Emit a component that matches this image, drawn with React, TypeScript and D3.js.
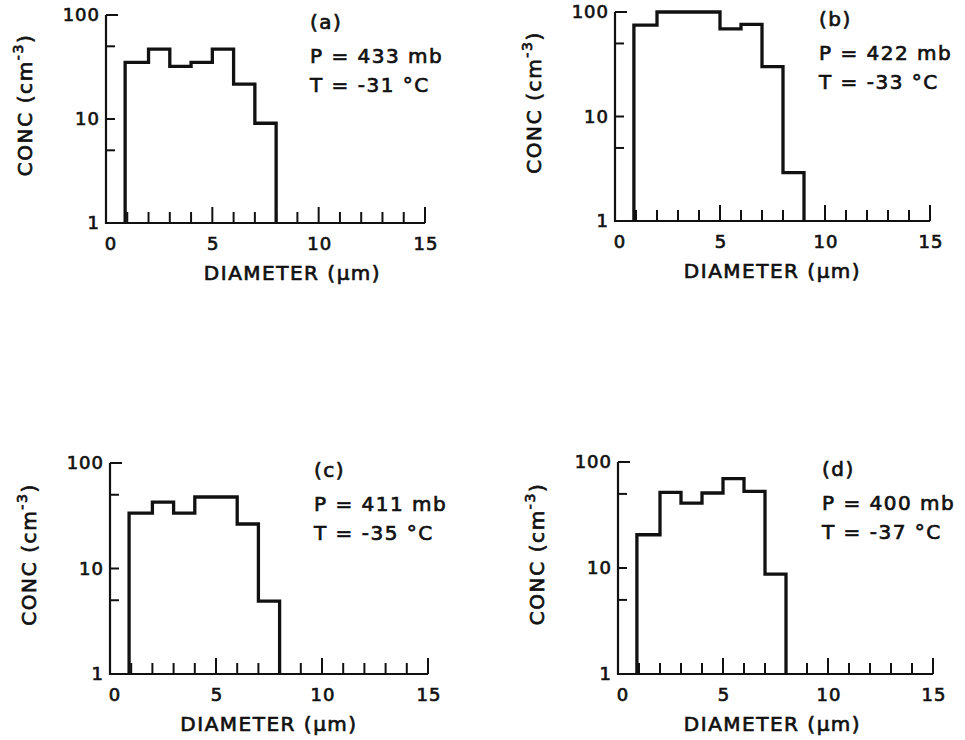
import React from "react";
import * as d3 from "d3";

// Diameter bin edges (µm) shared by every sounding
const binEdges = [0.9, 2, 3, 4, 5, 6, 7, 8, 9];

// Concentration per bin (cm^-3)
const concA = [35, 47, 32, 35, 47, 21.6, 9.1];
const concB = [75, 100, 100, 100, 69, 76, 30, 2.9];
const concC = [33.5, 42.6, 33.5, 47.6, 47.6, 26.4, 4.9];
const concD = [20.6, 51.7, 41, 51, 69.6, 52.8, 8.75];

const panelTags = ["(a)", "(b)", "(c)", "(d)"];
const pressures = ["433", "422", "411", "400"];
const temperatures = ["-31", "-33", "-35", "-37"];

const xTickLabels = [0, 5, 10, 15];
const yTickLabels = [1, 10, 100];
const yMinorTicks = [5, 50];

const FONT = "'DejaVu Sans', sans-serif";
const INK = "#111";
// slightly heavier glyphs than the regular face
const textInk = { fill: INK, stroke: INK, strokeWidth: 0.7 };

const panels = [
  { conc: concA, left: 106, right: 425, top: 15, bottom: 223, xLabelShift: 27 },
  { conc: concB, left: 615, right: 930, top: 12, bottom: 221, xLabelShift: 0 },
  { conc: concC, left: 110, right: 428, top: 463, bottom: 674, xLabelShift: 0 },
  { conc: concD, left: 618, right: 933, top: 462, bottom: 674, xLabelShift: -3 },
];

function Panel({ idx }: { idx: number }) {
  const p = panels[idx];
  const x = d3.scaleLinear().domain([0, 15]).range([p.left, p.right]);
  const y = d3.scaleLog().domain([1, 100]).range([p.bottom, p.top]);

  // step outline of the histogram
  const pts: [number, number][] = [[binEdges[0], 1]];
  p.conc.forEach((v, i) => {
    pts.push([binEdges[i], v]);
    pts.push([binEdges[i + 1], v]);
  });
  pts.push([binEdges[p.conc.length], 1]);
  const line = d3
    .line<[number, number]>()
    .x((d) => x(d[0]))
    .y((d) => y(d[1]));

  const xTicks = d3.range(1, 16);
  const yTicks = [...yMinorTicks, 10, 100];
  const midY = (p.top + p.bottom) / 2;
  const labelX = p.left + 204;

  return (
    <g>
      {/* axes */}
      <line x1={x(0)} x2={x(15)} y1={y(1)} y2={y(1)} stroke={INK} strokeWidth={2.2} />
      <line x1={x(0)} x2={x(0)} y1={y(1) + 1} y2={y(100)} stroke={INK} strokeWidth={2.2} />
      {xTicks.map((t) => (
        <line
          key={"xt" + t}
          x1={x(t)}
          x2={x(t)}
          y1={y(1)}
          y2={y(1) - (t % 5 === 0 ? 16 : 11)}
          stroke={INK}
          strokeWidth={2}
        />
      ))}
      {yTicks.map((t) => (
        <line
          key={"yt" + t}
          x1={x(0)}
          x2={x(0) + (t === 100 ? 12 : 9)}
          y1={y(t)}
          y2={y(t)}
          stroke={INK}
          strokeWidth={2}
        />
      ))}
      {xTickLabels.map((t) => (
        <text
          key={"xl" + t}
          x={x(t) + (t === 0 ? 5 : 1)}
          y={y(1) + 27}
          textAnchor="middle"
          fontFamily={FONT}
          fontSize={18}
          letterSpacing={1}
          {...textInk}
        >
          {t}
        </text>
      ))}
      {yTickLabels.map((t) => (
        <text
          key={"yl" + t}
          x={x(0) - 6}
          y={y(t) + 6}
          textAnchor="end"
          fontFamily={FONT}
          fontSize={18}
          letterSpacing={1}
          {...textInk}
        >
          {t}
        </text>
      ))}
      {/* histogram */}
      <path
        d={line(pts) || ""}
        fill="none"
        stroke={INK}
        strokeWidth={3.3}
        strokeLinejoin="miter"
      />
      {/* axis titles */}
      <text
        x={(p.left + p.right) / 2 + p.xLabelShift}
        y={y(1) + 57}
        textAnchor="middle"
        fontFamily={FONT}
        fontSize={20}
        letterSpacing={1.5}
        {...textInk}
      >
        DIAMETER (μm)
      </text>
      <text
        transform={`translate(${p.left - 74},${midY - 14}) rotate(-90)`}
        textAnchor="middle"
        fontFamily={FONT}
        fontSize={20}
        letterSpacing={1.6}
        {...textInk}
      >
        CONC (cm
        <tspan dy={-9} fontSize={14}>
          -3
        </tspan>
        <tspan dy={9}>)</tspan>
      </text>
      {/* sounding annotations */}
      <g fontFamily={FONT} fontSize={20} letterSpacing={1.5} {...textInk}>
        <text x={labelX} y={p.top + 14}>
          {panelTags[idx]}
        </text>
        <text x={labelX} y={p.top + 48}>
          {`P =  ${pressures[idx]} mb`}
        </text>
        <text x={labelX} y={p.top + 77}>
          {`T =  ${temperatures[idx]} °C`}
        </text>
      </g>
    </g>
  );
}

export default function App() {
  return (
    <div style={{ position: "absolute", left: 0, top: 0 }}>
      <svg width={965} height={740} style={{ display: "block", background: "#fff" }}>
        <rect width={965} height={740} fill="#fff" />
        {panels.map((_, i) => (
          <Panel key={i} idx={i} />
        ))}
      </svg>
    </div>
  );
}
